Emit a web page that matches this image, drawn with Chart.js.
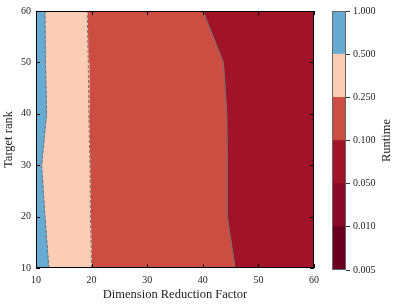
<!DOCTYPE html>
<html>
<head>
<meta charset="utf-8">
<script src="https://cdn.jsdelivr.net/npm/chart.js@4.4.1/dist/chart.umd.min.js"></script>
<style>
  body { margin: 0; background: #fff; }
  #wrap { position: relative; width: 399px; height: 306px; }
  #main { position: absolute; left: 0; top: 0; }
  #cbar { position: absolute; left: 320px; top: 0; }
</style>
</head>
<body>
<div id="wrap">
  <canvas id="main" width="399" height="306"></canvas>
  <canvas id="cbar" width="79" height="306"></canvas>
</div>
<script>
// target rank values where the contour edges were read
const ranks = [10, 20, 30, 40, 50, 60]
// x (dimension reduction factor) of each contour edge at every rank
const edge05 = [12.3, 11.6, 11.0, 11.9, 11.7, 11.6]
const edge025 = [20.0, 19.8, 19.7, 19.5, 19.4, 19.2]
const edge01 = [45.8, 44.4, 44.4, 44.3, 43.7, 40.0]
const xTicks = [10, 20, 30, 40, 50, 60]
const yTicks = [10, 20, 30, 40, 50, 60]

// colorbar levels, bottom to top
const cbLabels = ['0.005', '0.010', '0.050', '0.100', '0.250', '0.500', '1.000']
const cbColors = ['#69001f', '#880a25', '#a11328', '#cc4e43', '#fbcdb5', '#67aad2']

const serif = '"Liberation Serif", "DejaVu Serif", serif'
const xMin = 10, xMax = 60

const leftEdge = ranks.map(() => xMin)
const rightEdge = ranks.map(() => xMax)

const band = (left, right, color) => {
  const pts = ranks.map((r, i) => ({x: left[i], y: r}))
  for (let i = ranks.length - 1; i >= 0; i--) pts.push({x: right[i], y: ranks[i]})
  pts.push(pts[0])
  return {
    data: pts, showLine: true, fill: 'shape', backgroundColor: color,
    borderColor: color, borderWidth: 1, pointRadius: 0, tension: 0, order: 5
  }
}

const edgeLine = (edge, dash) => ({
  data: ranks.map((r, i) => ({x: edge[i], y: r})),
  showLine: true, fill: false, borderColor: '#6f6f6f', borderWidth: 1,
  borderDash: dash, pointRadius: 0, tension: 0, order: 1
})

const frameTicks = {
  id: 'frameTicks',
  afterDatasetsDraw(chart) {
    const {ctx, chartArea: a, scales} = chart
    ctx.save()
    ctx.strokeStyle = '#000'
    ctx.lineWidth = 1
    xTicks.forEach((v) => {
      const px = Math.round(scales.x.getPixelForValue(v)) + 0.5
      ctx.beginPath()
      ctx.moveTo(px, a.bottom); ctx.lineTo(px, a.bottom - 4)
      ctx.moveTo(px, a.top); ctx.lineTo(px, a.top + 4)
      ctx.stroke()
    })
    yTicks.forEach((v) => {
      const py = Math.round(scales.y.getPixelForValue(v)) + 0.5
      ctx.beginPath()
      ctx.moveTo(a.left, py); ctx.lineTo(a.left + 4, py)
      ctx.moveTo(a.right, py); ctx.lineTo(a.right - 4, py)
      ctx.stroke()
    })
    ctx.strokeRect(a.left + 0.5, a.top + 0.5, a.right - a.left - 1, a.bottom - a.top - 1)
    ctx.restore()
  }
}

new Chart(document.getElementById('main'), {
  type: 'scatter',
  data: {
    datasets: [
      band(leftEdge, edge05, cbColors[5]),
      band(edge05, edge025, cbColors[4]),
      band(edge025, edge01, cbColors[3]),
      band(edge01, rightEdge, cbColors[2]),
      edgeLine(edge05, [3, 2]),
      edgeLine(edge025, [3, 2]),
      edgeLine(edge01, [])
    ]
  },
  options: {
    responsive: false,
    animation: false,
    devicePixelRatio: 1,
    layout: {padding: {top: 11, right: 85, left: 0, bottom: 0}},
    plugins: {legend: {display: false}, tooltip: {enabled: false}},
    scales: {
      x: {
        type: 'linear', min: xMin, max: xMax,
        afterFit: (s) => { s.height = 38 },
        grid: {display: false, drawTicks: false}, border: {display: false},
        ticks: {stepSize: 10, padding: 6, color: '#222', font: {family: serif, size: 10}, maxRotation: 0},
        title: {display: true, text: 'Dimension Reduction Factor', color: '#222',
          font: {family: serif, size: 12.5}, padding: {top: 0, bottom: 4}}
      },
      y: {
        type: 'linear', min: 10, max: 60,
        afterFit: (s) => { s.width = 36 },
        grid: {display: false, drawTicks: false}, border: {display: false},
        ticks: {stepSize: 10, padding: 5, color: '#222', font: {family: serif, size: 10}},
        title: {display: true, text: 'Target rank', color: '#222',
          font: {family: serif, size: 12.5}, padding: {top: 1, bottom: 0}}
      }
    }
  },
  plugins: [frameTicks]
})

const cbFrame = {
  id: 'cbFrame',
  afterDraw(chart) {
    const {ctx, chartArea: a} = chart
    ctx.save()
    ctx.strokeStyle = '#666'
    ctx.lineWidth = 1
    ctx.strokeRect(a.left + 0.5, a.top + 0.5, a.right - a.left - 1, a.bottom - a.top - 1)
    ctx.fillStyle = '#222'
    ctx.font = '12.5px ' + serif
    ctx.textAlign = 'center'
    ctx.textBaseline = 'middle'
    ctx.translate(66.5, (a.top + a.bottom) / 2)
    ctx.rotate(-Math.PI / 2)
    ctx.fillText('Runtime', 0, 0)
    ctx.restore()
  }
}

new Chart(document.getElementById('cbar'), {
  type: 'bar',
  data: {
    labels: ['Runtime'],
    datasets: cbColors.map((c) => ({
      data: [1], backgroundColor: c, borderWidth: 0,
      barPercentage: 1, categoryPercentage: 1
    }))
  },
  options: {
    responsive: false,
    animation: false,
    devicePixelRatio: 1,
    layout: {padding: {top: 11, left: 12, right: 0, bottom: 36}},
    plugins: {legend: {display: false}, tooltip: {enabled: false}},
    scales: {
      x: {stacked: true, display: false},
      y: {
        stacked: true, position: 'right', min: 0, max: cbColors.length,
        afterFit: (s) => { s.width = 53 },
        border: {display: false},
        grid: {drawOnChartArea: false, drawTicks: true, tickLength: 4, color: '#333'},
        ticks: {stepSize: 1, padding: 3, color: '#222', font: {family: serif, size: 10},
          callback: (v) => cbLabels[v]}
      }
    }
  },
  plugins: [cbFrame]
})
</script>
</body>
</html>
